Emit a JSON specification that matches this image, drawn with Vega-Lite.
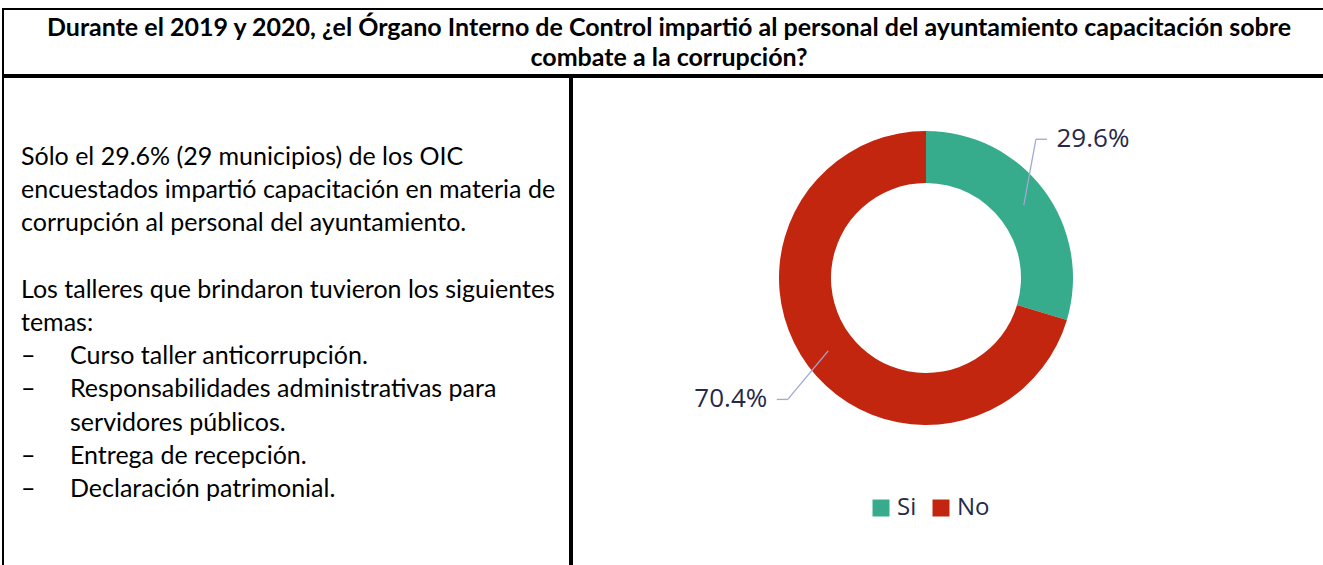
{
  "$schema": "https://vega.github.io/schema/vega-lite/v6.json",
  "padding": {"left": 2, "top": 8, "right": 0, "bottom": 0},
  "background": "white",
  "spacing": 0,
  "config": {"view": {"stroke": "black", "strokeWidth": 2}, "concat": {"spacing": 0}},
  "vconcat": [
    {
      "width": 1334,
      "height": 66,
      "data": {"values": [
        {"linea": 0, "texto": "Durante el 2019 y 2020, ¿el Órgano Interno de Control impartió al personal del ayuntamiento capacitación sobre"},
        {"linea": 1, "texto": "combate a la corrupción?"}
      ]},
      "mark": {"type": "text", "font": "Lato", "fontWeight": "bold", "fontSize": 25, "color": "black", "x": 666, "align": "center", "baseline": "alphabetic"},
      "encoding": {
        "y": {"field": "linea", "type": "quantitative", "scale": {"domain": [0, 1], "range": [27, 57]}, "axis": null},
        "text": {"field": "texto"}
      }
    },
    {
      "spacing": 0,
      "hconcat": [
        {
          "width": 567,
          "height": 500,
          "data": {"values": [
            {"linea": 0, "nivel": 0, "texto": "Sólo el 29.6% (29 municipios) de los OIC"},
            {"linea": 1, "nivel": 0, "texto": "encuestados impartió capacitación en materia de"},
            {"linea": 2, "nivel": 0, "texto": "corrupción al personal del ayuntamiento."},
            {"linea": 4, "nivel": 0, "texto": "Los talleres que brindaron tuvieron los siguientes"},
            {"linea": 5, "nivel": 0, "texto": "temas:"},
            {"linea": 6, "nivel": 0, "texto": "–"},
            {"linea": 6, "nivel": 1, "texto": "Curso taller anticorrupción."},
            {"linea": 7, "nivel": 0, "texto": "–"},
            {"linea": 7, "nivel": 1, "texto": "Responsabilidades administrativas para"},
            {"linea": 8, "nivel": 1, "texto": "servidores públicos."},
            {"linea": 9, "nivel": 0, "texto": "–"},
            {"linea": 9, "nivel": 1, "texto": "Entrega de recepción."},
            {"linea": 10, "nivel": 0, "texto": "–"},
            {"linea": 10, "nivel": 1, "texto": "Declaración patrimonial."}
          ]},
          "mark": {"type": "text", "font": "Lato", "fontSize": 25, "color": "black", "align": "left", "baseline": "alphabetic"},
          "encoding": {
            "x": {"field": "nivel", "type": "quantitative", "scale": {"domain": [0, 1], "range": [18, 67]}, "axis": null},
            "y": {"field": "linea", "type": "quantitative", "scale": {"domain": [0, 10], "range": [88, 420]}, "axis": null},
            "text": {"field": "texto"}
          }
        },
        {
          "width": 767,
          "height": 500,
          "data": {"values": [
            {"respuesta": "Si", "porcentaje": 29.6},
            {"respuesta": "No", "porcentaje": 70.4}
          ]},
          "layer": [
            {
              "mark": {"type": "arc", "innerRadius": 95, "outerRadius": 147},
              "encoding": {
                "theta": {"field": "porcentaje", "type": "quantitative", "stack": true},
                "order": {"field": "respuesta", "sort": "descending"},
                "x": {"datum": 0, "type": "quantitative", "scale": {"domain": [-354, 413], "range": [0, 767]}, "axis": null},
                "y": {"datum": 0, "type": "quantitative", "scale": {"domain": [-201, 299], "range": [0, 500]}, "axis": null},
                "color": {
                  "field": "respuesta", "type": "nominal",
                  "scale": {"domain": ["Si", "No"], "range": ["#36AC8C", "#C2260F"]},
                  "legend": {
                    "orient": "none", "legendX": 866, "legendY": 487, "direction": "horizontal",
                    "title": null, "symbolType": "square", "symbolSize": 289, "symbolStrokeWidth": 0,
                    "labelFont": "Open Sans", "labelFontSize": 24, "labelColor": "#262A4A",
                    "labelOffset": 4, "columnPadding": 12
                  }
                }
              }
            },
            {
              "transform": [
                {"window": [{"op": "sum", "field": "porcentaje", "as": "acum"}], "sort": [{"field": "respuesta", "order": "descending"}], "frame": [null, 0]},
                {"joinaggregate": [{"op": "sum", "field": "porcentaje", "as": "total"}]},
                {"calculate": "2*PI*(datum.acum - datum.porcentaje/2)/datum.total", "as": "ang"},
                {"calculate": "sin(datum.ang) >= 0 ? 1 : -1", "as": "lado"},
                {"calculate": "datum.ang - 0.17 - 0.09*datum.lado", "as": "angE"},
                {"calculate": "180.5 - 3.5*datum.lado", "as": "radE"},
                {"calculate": "122*sin(datum.ang)", "as": "x1"},
                {"calculate": "-122*cos(datum.ang)", "as": "y1"},
                {"calculate": "datum.radE*sin(datum.angE)", "as": "x2"},
                {"calculate": "-datum.radE*cos(datum.angE)", "as": "y2"},
                {"calculate": "datum.x2 + 11*datum.lado", "as": "x3"},
                {"calculate": "datum.x3 + 46*datum.lado", "as": "xl"},
                {"calculate": "format(datum.porcentaje, '.1f') + '%'", "as": "etiqueta"}
              ],
              "layer": [
                {
                  "mark": {"type": "rule", "color": "#A0A8D4", "strokeWidth": 1.3},
                  "encoding": {
                    "x": {"field": "x1", "type": "quantitative", "scale": {"domain": [-354, 413], "range": [0, 767]}, "axis": null},
                    "y": {"field": "y1", "type": "quantitative", "scale": {"domain": [-201, 299], "range": [0, 500]}, "axis": null},
                    "x2": {"field": "x2"},
                    "y2": {"field": "y2"}
                  }
                },
                {
                  "mark": {"type": "rule", "color": "#A0A8D4", "strokeWidth": 1.3},
                  "encoding": {
                    "x": {"field": "x2", "type": "quantitative", "scale": {"domain": [-354, 413], "range": [0, 767]}, "axis": null},
                    "y": {"field": "y2", "type": "quantitative", "scale": {"domain": [-201, 299], "range": [0, 500]}, "axis": null},
                    "x2": {"field": "x3"},
                    "y2": {"field": "y2"}
                  }
                },
                {
                  "mark": {"type": "text", "font": "Open Sans", "fontSize": 26, "color": "#262A4A", "align": "center", "baseline": "middle"},
                  "encoding": {
                    "x": {"field": "xl", "type": "quantitative", "scale": {"domain": [-354, 413], "range": [0, 767]}, "axis": null},
                    "y": {"field": "y2", "type": "quantitative", "scale": {"domain": [-201, 299], "range": [0, 500]}, "axis": null},
                    "text": {"field": "etiqueta"}
                  }
                }
              ]
            }
          ]
        }
      ]
    }
  ]
}
